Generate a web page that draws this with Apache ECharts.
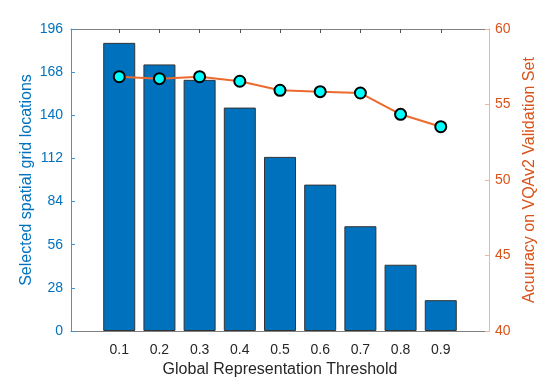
<!DOCTYPE html>
<html>
<head>
<meta charset="utf-8">
<script src="https://cdn.jsdelivr.net/npm/echarts@6/dist/echarts.min.js"></script>
<style>
  html, body { margin: 0; padding: 0; background: #fff; }
  #chart { width: 540px; height: 379px; }
</style>
</head>
<body>
<div id="chart"></div>
<script>
  // 阈值 (x 轴)
  var thresholds = [0.1, 0.2, 0.3, 0.4, 0.5, 0.6, 0.7, 0.8, 0.9];
  // 柱状图：选中的空间网格位置数
  var gridLocations = [187, 173, 163, 145, 113, 95, 68, 43, 20];
  // 折线：VQAv2 验证集准确率
  var accuracy = [56.84, 56.71, 56.84, 56.54, 55.94, 55.85, 55.76, 54.35, 53.53];

  var blue = '#0072BD';
  var orange = '#D95319';
  var font = 'Liberation Sans';

  var chart = echarts.init(document.getElementById('chart'));
  chart.setOption({
    animation: false,
    textStyle: { fontFamily: font },
    grid: { left: 71, right: 51, top: 29, bottom: 48, outerBoundsMode: 'none' },
    xAxis: [
      {
        type: 'value',
        min: -0.02,
        max: 1.02,
        name: 'Global Representation Threshold',
        nameLocation: 'middle',
        nameGap: 31,
        nameTextStyle: { color: '#262626', fontSize: 16, fontFamily: font },
        axisLine: { onZero: false, lineStyle: { color: '#808080', width: 1 } },
        axisTick: { inside: true, length: 4, customValues: thresholds, lineStyle: { color: '#555' } },
        axisLabel: {
          customValues: thresholds,
          margin: 12,
          color: '#262626',
          fontSize: 14,
          formatter: function (v) { return v.toFixed(1) }
        },
        splitLine: { show: false }
      },
      {
        type: 'value',
        position: 'top',
        min: -0.02,
        max: 1.02,
        axisLine: { show: true, onZero: false, lineStyle: { color: '#808080', width: 1 } },
        axisTick: { inside: true, length: 4, customValues: thresholds, lineStyle: { color: '#555' } },
        axisLabel: { show: false },
        splitLine: { show: false }
      }
    ],
    yAxis: [
      {
        type: 'value',
        min: 0,
        max: 196,
        interval: 28,
        name: 'Selected spatial grid locations',
        nameLocation: 'middle',
        nameGap: 36,
        nameMoveOverlap: false,
        nameTextStyle: { color: blue, fontSize: 16, fontFamily: font },
        axisLine: { show: true, onZero: false, lineStyle: { color: '#3d97d6', width: 1 } },
        axisTick: { show: true, inside: true, length: 4, lineStyle: { color: '#3d97d6' } },
        axisLabel: { color: blue, fontSize: 14, margin: 8 },
        splitLine: { show: false }
      },
      {
        type: 'value',
        min: 40,
        max: 60,
        interval: 5,
        position: 'right',
        name: 'Acuuracy on VQAv2 Validation Set',
        nameLocation: 'middle',
        nameGap: 31,
        nameRotate: 90,
        nameTextStyle: { color: orange, fontSize: 16, fontFamily: font },
        axisLine: { show: true, onZero: false, lineStyle: { color: '#f2b49a', width: 1 } },
        axisTick: { show: true, inside: true, length: 4, lineStyle: { color: '#f2b49a' } },
        axisLabel: { color: orange, fontSize: 14, margin: 6 },
        splitLine: { show: false }
      }
    ],
    series: [
      {
        name: 'locations',
        type: 'bar',
        xAxisIndex: 0,
        yAxisIndex: 0,
        barWidth: 32,
        data: thresholds.map(function (t, i) { return [t, gridLocations[i]] }),
        itemStyle: { color: blue, borderColor: '#333', borderWidth: 1 }
      },
      {
        name: 'accuracy',
        type: 'line',
        xAxisIndex: 0,
        yAxisIndex: 1,
        data: thresholds.map(function (t, i) { return [t, accuracy[i]] }),
        symbol: 'circle',
        symbolSize: 11,
        lineStyle: { color: '#EC6A2E', width: 2 },
        itemStyle: { color: '#00FFFF', borderColor: '#000', borderWidth: 2 }
      }
    ]
  });
</script>
</body>
</html>
